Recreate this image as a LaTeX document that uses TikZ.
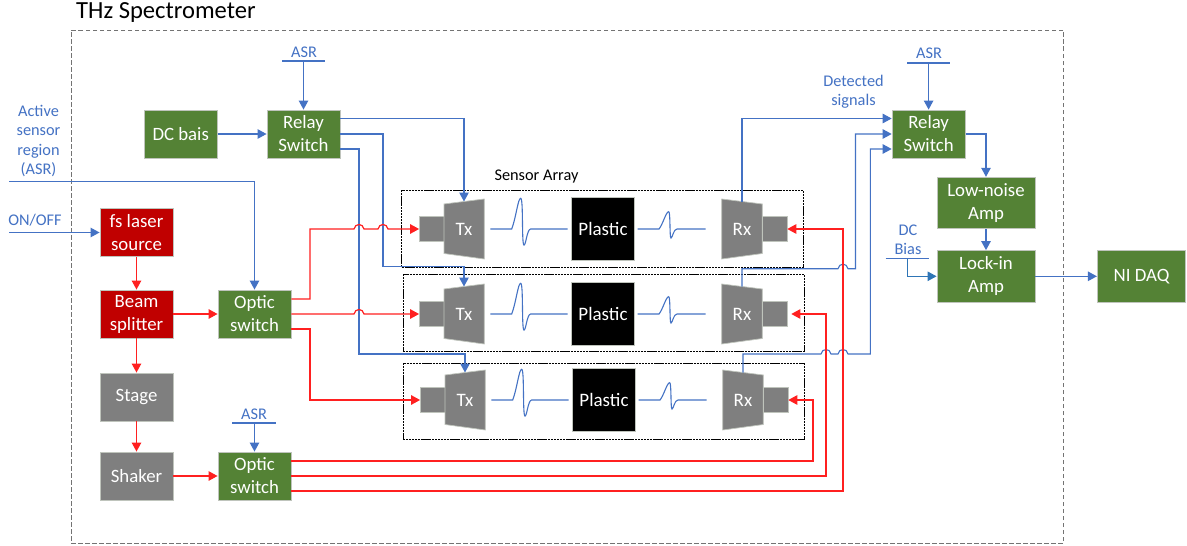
\documentclass[tikz,border=0pt]{standalone}
\usepackage{fontspec}
\setmainfont{Carlito}
\usetikzlibrary{arrows.meta,calc}
\definecolor{bgreen}{HTML}{548235}
\definecolor{bred}{HTML}{C00000}
\definecolor{bgrey}{HTML}{7F7F7F}
\definecolor{bblue}{HTML}{4472C4}
\definecolor{dblue}{HTML}{2E75B6}
\definecolor{lred}{HTML}{FF2020}
\definecolor{bedge}{HTML}{BFC4BC}
\tikzset{
  boxbase/.style={draw=bedge,line width=0.9pt,text=white,inner sep=0pt,align=center,font=\fontsize{18.8}{23}\selectfont,minimum width=73pt,minimum height=48pt},
  gbox/.style={boxbase,fill=bgreen},
  rbox/.style={boxbase,fill=bred},
  ybox/.style={boxbase,fill=bgrey},
  wbox/.style={gbox,minimum width=98pt,minimum height=51.5pt},
  bl/.style={bblue,line width=1.1pt},
  blar/.style={bl,-{Triangle[length=9pt,width=9.5pt]}},
  rd/.style={lred,line width=1.2pt},
  rdar/.style={rd,-{Triangle[length=9pt,width=9.5pt]}},
  lab/.style={text=bblue,inner sep=0pt,align=center,font=\fontsize{16.3}{19.5}\selectfont},
  arr/.style={draw=black,line width=0.9pt,dash pattern=on 2.2pt off 0.7pt,minimum width=401.5pt,inner sep=0pt},
  small/.style={fill=bgrey,draw=bedge,line width=0.7pt,minimum width=24.5pt,minimum height=24.5pt,inner sep=0pt},
  cone/.style={fill=bgrey,draw=bedge,line width=0.7pt},
  conetext/.style={text=white,inner sep=0pt,font=\fontsize{19}{20}\selectfont},
  wave/.style={bblue,line width=1.1pt},
}
\newcommand{\hopr}[2]{-- (#1-5,#2) .. controls (#1-4,#2-6) and (#1+4,#2-6) .. (#1+5,#2)}
\newcommand{\sensorrow}[3]{%
  \begin{scope}[shift={(#2,#3)}]
    \node[small] (txs#1) at (431.7,229) {};
    \draw[cone] (444,204) -- (484.3,199) -- (484.3,259) -- (444,253.5) -- cycle;
    \node[conetext] (tx#1) at (464,229.5) {Tx};
    \coordinate (txtop#1) at (464,201.5);
    \draw[wave] (490.3,229) -- (511.7,229) .. controls (516,218) and (518,198) .. (520.7,198.3) .. controls (523.5,198) and (521.5,245) .. (524,245) .. controls (526,245) and (527,229) .. (530.7,229) -- (567.7,229);
    \node[fill=black,draw=bedge,line width=0.7pt,minimum width=62.5pt,minimum height=62.5pt,inner sep=0pt,text=white,font=\fontsize{19}{20}\selectfont] (pl#1) at (603,229) {Plastic};
    \draw[wave] (637.7,229) -- (659,229) .. controls (663,224) and (666,211.7) .. (668.7,211.7) .. controls (670.5,211.7) and (669.5,238) .. (671,238) .. controls (672.5,238) and (673.5,229) .. (677,229) -- (705.7,229);
    \draw[cone] (721.7,199) -- (762.3,204) -- (762.3,253.5) -- (721.7,259) -- cycle;
    \node[conetext] (rx#1) at (742,229.5) {Rx};
    \coordinate (rxtop#1) at (742,201.5);
    \node[small] (rxs#1) at (774.7,229) {};
  \end{scope}}
\begin{document}
\begin{tikzpicture}[x=1pt,y=-1pt]
\useasboundingbox (0,0) rectangle (1187,546);
\fill[white] (0,0) rectangle (1187,546);
% frame
\node[draw=black!55,dashed,line width=0.8pt,minimum width=992pt,minimum height=513pt,inner sep=0pt,dash pattern=on 4.5pt off 2.5pt] (outer) at (567,286.5) {};
\node[anchor=base west,inner sep=0pt,font=\fontsize{24.6}{28}\selectfont] (title) at (76,18.5) {THz Spectrometer};
% sensor array
\node[arr,minimum height=76.6pt] (a1) at (602.4,229) {};
\node[arr,minimum height=76.4pt] (a2) at (603.7,313) {};
\node[arr,minimum height=76pt] (a3) at (603.9,401.3) {};
\node[font=\fontsize{16.3}{18}\selectfont,inner sep=0pt] (satext) at (536.5,177) {Sensor Array};
\sensorrow{1}{0}{0}
\sensorrow{2}{0}{85}
\sensorrow{3}{1}{171}
% left blocks
\node[gbox] (dc) at (180.7,134) {DC bais};
\node[gbox] (rs1) at (303.5,134) {Relay\\Switch};
\node[rbox] (fs) at (136.5,232.5) {fs laser\\source};
\node[rbox] (bs) at (136.5,314) {Beam\\splitter};
\node[ybox] (st) at (136.5,397) {Stage};
\node[ybox] (sh) at (136.5,476) {Shaker};
\node[gbox] (os1) at (254.5,314) {Optic\\switch};
\node[gbox] (os2) at (254.5,476) {Optic\\switch};
% right blocks
\node[gbox] (rs2) at (928.6,134) {Relay\\Switch};
\node[wbox] (ln) at (986,203) {Low-noise\\Amp};
\node[wbox] (li) at (986,276.3) {Lock-in\\Amp};
\node[gbox,minimum width=88.5pt,minimum height=51.5pt] (ni) at (1141.6,276.3) {NI DAQ};
% labels
\node[lab] (asrt1) at (304,52) {ASR};
\node[lab] (asrt2) at (254,414) {ASR};
\node[lab] (asrt3) at (929,53) {ASR};
\node[lab] (asrin) at (38.5,141) {Active\\sensor\\region\\(ASR)};
\node[lab] (onoff) at (35,220) {ON/OFF};
\node[lab] (det) at (853.5,91.5) {Detected\\signals};
\node[lab] (dcb) at (908,240) {DC\\Bias};
% free ends
\coordinate (asr1a) at (282,61); \coordinate (asr1b) at (325,61); \coordinate (asr1m) at (303.5,61);
\coordinate (asr2a) at (232,423); \coordinate (asr2b) at (276,423); \coordinate (asr2m) at (254.5,423);
\coordinate (asr3a) at (907,63); \coordinate (asr3b) at (950,63); \coordinate (asr3m) at (928.6,63);
\coordinate (dcba) at (885.7,258.5); \coordinate (dcbb) at (929,258.5); \coordinate (dcbm) at (907.5,258.5);
\coordinate (asrfree) at (9,181.5); \coordinate (onfree) at (9,232.5);
% ASR bars
\draw[bl] (asr1a) -- (asr1b);
\draw[bl] (asr2a) -- (asr2b);
\draw[bl] (asr3a) -- (asr3b);
\draw[bl,line width=1pt] (dcba) -- (dcbb);
\draw[blar] (asr1m) -- (rs1.north);
\draw[blar] (asr2m) -- (os2.north);
\draw[blar] (asr3m) -- (rs2.north);
% blue connectors
\draw[blar] (dc.east) -- (rs1.west);
\draw[blar] (asrfree) -| (os1.north);
\draw[blar] (onfree) -- (fs.west);
\draw[blar] ([yshift=15.5pt]rs1.east) -| (txtop1);
\draw[blar] (rs1.east) -| (383,266.6) -| (txtop2);
\draw[blar] ([yshift=-15pt]rs1.east) -| (359,354) -| (txtop3);
\draw[blar] (rxtop1) |- ([yshift=15.5pt]rs2.west);
\draw[blar] (rxtop2) -- (742,268.7) \hopr{843}{268.7} -- (855.5,268.7) |- (rs2.west);
\draw[blar] (rxtop3) -- (743,354) \hopr{826}{354} \hopr{843}{354} -- (870.3,354) |- ([yshift=-15pt]rs2.west);
\draw[blar] (rs2.east) -| (ln.north);
\draw[blar] (ln.south) -- (li.north);
\draw[blar] (li.east) -- (ni.west);
\draw[blar,dblue,line width=1pt] (dcbm) |- (li.west);
% red connectors
\draw[rdar] (fs.south) -- (bs.north);
\draw[rdar] (bs.south) -- (st.north);
\draw[rdar] (st.south) -- (sh.north);
\draw[rdar] (bs.east) -- (os1.west);
\draw[rdar] (sh.east) -- (os2.west);
\draw[rdar] ([yshift=15pt]os1.east) -| (310,229) \hopr{359}{229} \hopr{383}{229} -- (txs1.west);
\draw[rdar] (os1.east) \hopr{359}{314} -- (txs2.west);
\draw[rdar] ([yshift=-15pt]os1.east) -| (310,400) -- (txs3.west);
\draw[rdar] ([yshift=15pt]os2.east) -| (813,400) -- (rxs3.east);
\draw[rdar] (os2.east) -| (826,314) -- ([xshift=4pt]rxs2.east);
\draw[rdar] ([yshift=-15pt]os2.east) -| (843,229) -- (rxs1.east);
\end{tikzpicture}
\end{document}
